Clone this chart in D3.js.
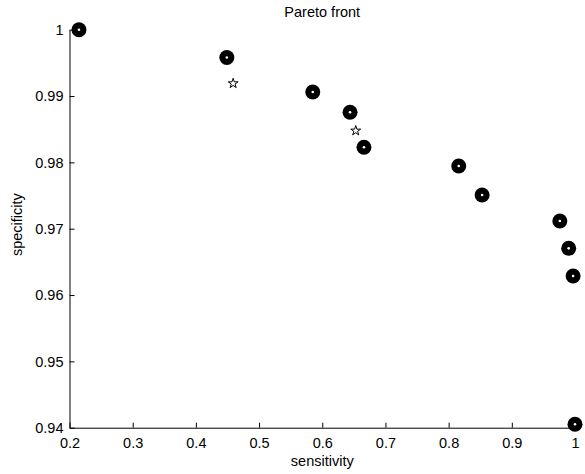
<!DOCTYPE html>
<html>
<head>
<meta charset="utf-8">
<script src="https://cdn.jsdelivr.net/npm/d3@7"></script>
<style>
html,body{margin:0;padding:0;background:#fff;}
svg{display:block;}
text{font-family:"Liberation Sans",Arial,sans-serif;fill:#000;}
</style>
</head>
<body>
<svg id="chart" width="585" height="474"></svg>
<script>
const frontSensitivity = [0.215, 0.449, 0.585, 0.644, 0.666, 0.816, 0.853, 0.976, 0.990, 0.997, 1.000];
const frontSpecificity = [1.0000, 0.9958, 0.9906, 0.98755, 0.98227, 0.97945, 0.97508, 0.97116, 0.96704, 0.96287, 0.94051];
const starSensitivity = [0.459, 0.653];
const starSpecificity = [0.9919, 0.98477];
const xTicks = [0.2, 0.3, 0.4, 0.5, 0.6, 0.7, 0.8, 0.9, 1];
const yTicks = [0.94, 0.95, 0.96, 0.97, 0.98, 0.99, 1];
const xTickLabels = ["0.2","0.3","0.4","0.5","0.6","0.7","0.8","0.9","1"];
const yTickLabels = ["0.94","0.95","0.96","0.97","0.98","0.99","1"];

const svg = d3.select("#chart");
const L = 69.5, R = 575, T = 29.7, B = 427.7;
const x = d3.scaleLinear().domain([0.2, 1]).range([L, R]);
const y = d3.scaleLinear().domain([0.94, 1]).range([B, T]);
const fs = "14.5px";

const xAxis = d3.axisBottom(x).tickValues(xTicks).tickFormat((d,i)=>xTickLabels[i]).tickSizeInner(-5).tickSizeOuter(0).tickPadding(10);
const yAxis = d3.axisLeft(y).tickValues(yTicks).tickFormat((d,i)=>yTickLabels[i]).tickSizeInner(-5).tickSizeOuter(0).tickPadding(6);

const gx = svg.append("g").attr("transform", `translate(0,${B})`).call(xAxis);
const gy = svg.append("g").attr("transform", `translate(${L},0)`).call(yAxis);
[gx, gy].forEach(g => {
  g.select(".domain").attr("stroke", "#000").attr("stroke-width", 1);
  g.selectAll(".tick line").attr("stroke", "#000");
  g.selectAll(".tick text").style("font-size", fs).attr("font-family", null);
});
gx.attr("font-family", null).attr("font-size", null);
gy.attr("font-family", null).attr("font-size", null);

const pts = d3.range(frontSensitivity.length).map(i => [frontSensitivity[i], frontSpecificity[i]]);
const stars = d3.range(starSensitivity.length).map(i => [starSensitivity[i], starSpecificity[i]]);

svg.append("g").selectAll("circle").data(pts).join("circle")
  .attr("cx", d => x(d[0])).attr("cy", d => y(d[1])).attr("r", 7.5).attr("fill", "#000");
svg.append("g").selectAll("circle").data(pts).join("circle")
  .attr("cx", d => x(d[0])).attr("cy", d => y(d[1])).attr("r", 1.3).attr("fill", "#fff");

svg.append("g").selectAll("path").data(stars).join("path")
  .attr("d", d3.symbol().type(d3.symbolStar).size(30))
  .attr("transform", d => `translate(${x(d[0])},${y(d[1])})`)
  .attr("fill", "none").attr("stroke", "#000").attr("stroke-width", 1);

svg.append("text").attr("x", (L+R)/2).attr("y", 16.5).attr("text-anchor", "middle").style("font-size", fs).text("Pareto front");
svg.append("text").attr("x", (L+R)/2).attr("y", 466).attr("text-anchor", "middle").style("font-size", fs).text("sensitivity");
svg.append("text").attr("transform", `translate(22,${(T+B)/2 - 4}) rotate(-90)`).attr("text-anchor", "middle").style("font-size", fs).text("specificity");
</script>
</body>
</html>
